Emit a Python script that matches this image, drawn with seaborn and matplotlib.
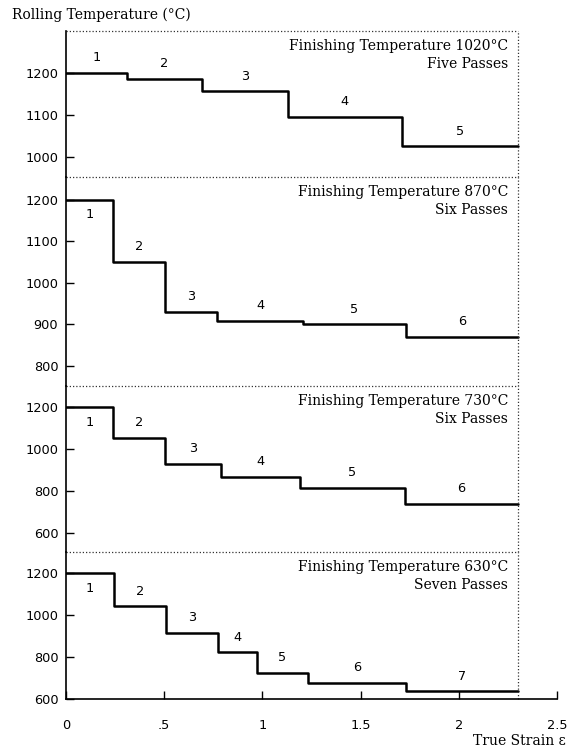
import numpy as np
import pandas as pd
import matplotlib
matplotlib.use("Agg")
import matplotlib.pyplot as plt
import seaborn as sns

# ---------------- data ----------------
strain_edges_1020 = [0.0, 0.31, 0.69, 1.13, 1.71, 2.3]
temps_1020 = [1200, 1185, 1155, 1095, 1025]

strain_edges_870 = [0.0, 0.24, 0.505, 0.77, 1.205, 1.73, 2.3]
temps_870 = [1200, 1050, 930, 908, 900, 870]

strain_edges_730 = [0.0, 0.24, 0.505, 0.79, 1.19, 1.725, 2.3]
temps_730 = [1200, 1055, 930, 868, 815, 738]

strain_edges_630 = [0.0, 0.243, 0.508, 0.775, 0.975, 1.23, 1.732, 2.3]
temps_630 = [1200, 1043, 917, 822, 725, 677, 637]

panel_titles = ["Finishing Temperature 1020°C", "Finishing Temperature 870°C",
                "Finishing Temperature 730°C", "Finishing Temperature 630°C"]
panel_subtitles = ["Five Passes", "Six Passes", "Six Passes", "Seven Passes"]

y_ticks = [[1000, 1100, 1200],
           [800, 900, 1000, 1100, 1200],
           [600, 800, 1000, 1200],
           [600, 800, 1000, 1200]]
y_limits = [(952, 1299), (752, 1255), (506, 1303), (598, 1301)]

x_ticks = [0, 0.5, 1, 1.5, 2, 2.5]
x_ticklabels = ["0", ".5", "1", "1.5", "2", "2.5"]
x_end = 2.3

y_title = "Rolling Temperature (°C)"
x_title = "True Strain ε"

panels = [(strain_edges_1020, temps_1020), (strain_edges_870, temps_870),
          (strain_edges_730, temps_730), (strain_edges_630, temps_630)]

# ---------------- style / layout ----------------
sns.set_theme(style="white")
plt.rcParams["font.family"] = ["DejaVu Sans"]
SERIF = ["DejaVu Serif"]
SANS = ["DejaVu Sans"]

W_PX, H_PX = 570, 747
fig = plt.figure(figsize=(W_PX / 100, H_PX / 100), dpi=100)
fig.patch.set_facecolor("white")

left_px, right_px = 66, 557
panel_bounds_px = [31, 176.7, 385.7, 552.3, 699.3]
first_label_below = [False, True, True, True]

dot_kw = dict(color="#333333", lw=0.9, ls=(0, (1, 1.6)), clip_on=False)
NUM_SIZE = 9.3
SERIF_SIZE = 10.0

for i, (edges, temps) in enumerate(panels):
    top, bot = panel_bounds_px[i], panel_bounds_px[i + 1]
    ax = fig.add_axes([left_px / W_PX, 1 - bot / H_PX,
                       (right_px - left_px) / W_PX, (bot - top) / H_PX])
    ax.set_facecolor("none")
    df = pd.DataFrame({"strain": edges, "temp": list(temps) + [temps[-1]]})
    sns.lineplot(data=df, x="strain", y="temp", drawstyle="steps-post",
                 estimator=None, sort=False, color="black", lw=1.8, ax=ax)
    ax.set_xlim(0, 2.5)
    ylo, yhi = y_limits[i]
    ax.set_ylim(ylo, yhi)
    ax.set_xlabel("")
    ax.set_ylabel("")
    ax.grid(False)

    for s in ["top", "right"]:
        ax.spines[s].set_visible(False)
    ax.spines["left"].set_color("black")
    ax.spines["left"].set_linewidth(1.2)

    ax.set_yticks(y_ticks[i])
    ax.set_yticklabels([str(t) for t in y_ticks[i]], fontfamily=SANS)
    ax.tick_params(axis="y", direction="in", length=5.5, width=1.0,
                   pad=5.5, labelsize=NUM_SIZE, colors="black", left=True)

    if i < len(panels) - 1:
        ax.spines["bottom"].set_visible(False)
        ax.tick_params(axis="x", bottom=False, labelbottom=False)
    else:
        ax.spines["bottom"].set_color("black")
        ax.spines["bottom"].set_linewidth(1.2)
        ax.set_xticks(x_ticks)
        ax.set_xticklabels(x_ticklabels, fontfamily=SANS)
        ax.tick_params(axis="x", direction="in", length=6, width=1.0,
                       pad=14, labelsize=NUM_SIZE, colors="black", bottom=True)

    # dotted frame (top and right)
    ax.plot([0, x_end], [yhi, yhi], **dot_kw)
    ax.plot([x_end, x_end], [ylo, yhi], **dot_kw)

    # pass numbers
    for k, t in enumerate(temps):
        xm = (edges[k] + edges[k + 1]) / 2
        dy = -15 if (k == 0 and first_label_below[i]) else 15
        ax.annotate(str(k + 1), xy=(xm, t), xytext=(0, dy),
                    textcoords="offset pixels", ha="center", va="center",
                    fontsize=NUM_SIZE, fontfamily=SANS, color="black")

    # finishing temperature annotation
    ax.annotate(panel_titles[i], xy=(2.25, 1), xycoords=("data", "axes fraction"),
                xytext=(0, -15), textcoords="offset pixels", ha="right",
                va="center", fontsize=SERIF_SIZE, fontfamily=SERIF, color="black")
    ax.annotate(panel_subtitles[i], xy=(2.25, 1), xycoords=("data", "axes fraction"),
                xytext=(0, -33), textcoords="offset pixels", ha="right",
                va="center", fontsize=SERIF_SIZE, fontfamily=SERIF, color="black")

fig.text(11.7 / W_PX, 1 - 15 / H_PX, y_title, ha="left", va="center",
         fontsize=SERIF_SIZE, fontfamily=SERIF, color="black")
fig.text(566 / W_PX, 1 - 741 / H_PX, x_title, ha="right", va="center",
         fontsize=SERIF_SIZE, fontfamily=SERIF, color="black")

fig.savefig("out.png", dpi=100, facecolor="white")
